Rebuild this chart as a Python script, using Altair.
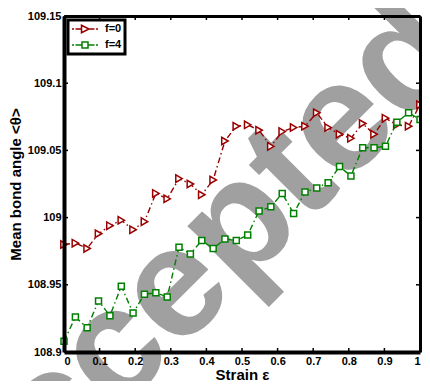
import altair as alt
import pandas as pd

# ---- data ----
strain = [0.0, 0.032, 0.065, 0.097, 0.129, 0.161, 0.194, 0.226, 0.258, 0.290,
          0.323, 0.355, 0.387, 0.419, 0.452, 0.484, 0.516, 0.548, 0.581, 0.613,
          0.645, 0.677, 0.710, 0.742, 0.774, 0.806, 0.839, 0.871, 0.903, 0.935,
          0.968, 1.0]
f0 = [108.980, 108.981, 108.977, 108.988, 108.994, 108.998, 108.991, 108.997,
      109.018, 109.014, 109.029, 109.025, 109.017, 109.028, 109.057, 109.068,
      109.069, 109.065, 109.053, 109.064, 109.067, 109.068, 109.078, 109.067,
      109.062, 109.059, 109.070, 109.062, 109.074, 109.069, 109.068, 109.084]
f4 = [108.908, 108.926, 108.918, 108.938, 108.927, 108.949, 108.929, 108.943,
      108.944, 108.941, 108.978, 108.973, 108.983, 108.977, 108.984, 108.983,
      108.987, 109.005, 109.008, 109.018, 109.003, 109.019, 109.022, 109.026,
      109.038, 109.031, 109.052, 109.052, 109.053, 109.071, 109.078, 109.073]
series_names = ["f=0", "f=4"]
colors = ["#990000", "#008000"]
x_ticks = [0, 0.1, 0.2, 0.3, 0.4, 0.5, 0.6, 0.7, 0.8, 0.9, 1]
y_ticks = [108.9, 108.95, 109.0, 109.05, 109.1, 109.15]
wm_text = ["Accepted"]
wm_x = [0.353]
wm_y = [108.958]

W, H = 356, 336
FONT = "Liberation Sans"

df = pd.DataFrame({
    "strain": strain * 2,
    "angle": f0 + f4,
    "series": [series_names[0]] * len(f0) + [series_names[1]] * len(f4),
})
df["label"] = df["series"]
xt = pd.DataFrame({"t": x_ticks})
yt = pd.DataFrame({"t": y_ticks})
wm = pd.DataFrame({"x": wm_x, "y": wm_y, "txt": wm_text})

xsc = alt.Scale(domain=[0, 1], nice=False, zero=False)
ysc = alt.Scale(domain=[108.9, 109.15], nice=False, zero=False)

watermark = alt.Chart(wm).mark_text(
    font=FONT, fontSize=156, fontWeight="bold", angle=315, color="#a0a0a0",
    align="center", baseline="middle"
).encode(
    x=alt.X("x:Q", scale=xsc, axis=None),
    y=alt.Y("y:Q", scale=ysc, axis=None),
    text="txt:N",
)

layers = [watermark]
markers = [("triangle-right", 55), ("square", 36)]
for name, col, (shp, sz) in zip(series_names, colors, markers):
    sub = alt.Chart(df).transform_filter(alt.datum.series == name)
    layers.append(sub.mark_line(strokeWidth=1.4, strokeDash=[6, 3, 1.5, 3], color=col).encode(
        x=alt.X("strain:Q", scale=xsc, axis=None),
        y=alt.Y("angle:Q", scale=ysc, axis=None),
    ))
    layers.append(sub.mark_point(shape=shp, size=sz, filled=False, fill="white", color=col,
                                 strokeWidth=1.5, opacity=1).encode(
        x=alt.X("strain:Q", scale=xsc, axis=None),
        y=alt.Y("angle:Q", scale=ysc, axis=None),
    ))

P_TRI = "M-2.6,0H-2.2M-1.9,0H-0.75M-0.7,-0.75L0.8,0L-0.7,0.75ZM0.8,0H1.9M2.2,0H2.6"
P_SQ = "M-2.6,0H-2.2M-1.9,0H-0.6M-0.6,-0.6H0.6V0.6H-0.6ZM0.6,0H1.9M2.2,0H2.6"
leg_def = alt.Legend(title=None, orient="top-left", offset=4, padding=3,
                     strokeColor="black", fillColor="white", cornerRadius=0,
                     symbolOffset=8, labelOffset=14, symbolStrokeWidth=1.5,
                     symbolSize=100, symbolOpacity=1, rowPadding=3,
                     labelFont=FONT, labelFontWeight="bold", labelFontSize=11,
                     labelColor="black")
legend_layer = alt.Chart(df).mark_point(filled=False, strokeWidth=1.5, opacity=0).encode(
    x=alt.X("strain:Q", scale=xsc, axis=None),
    y=alt.Y("angle:Q", scale=ysc, axis=None),
    shape=alt.Shape("label:N", scale=alt.Scale(domain=series_names, range=[P_TRI, P_SQ]), legend=leg_def),
    stroke=alt.Stroke("label:N", scale=alt.Scale(domain=series_names, range=colors), legend=leg_def),
)
layers.append(legend_layer)

ax_common = dict(zindex=1, domainColor="black", tickSize=0, grid=False,
                 labelFont=FONT, labelFontWeight="bold", labelFontSize=11,
                 labelColor="black", titleFont=FONT, titleFontWeight="bold",
                 titleFontSize=15, titleColor="black")

bottom = alt.Chart(xt).mark_rule(color="black", strokeWidth=1.5).encode(
    x=alt.X("t:Q", scale=xsc, axis=alt.Axis(orient="bottom", values=x_ticks, format="~g",
                                            title="Strain ε", domainWidth=4, labelPadding=3,
                                            titlePadding=1, **ax_common)),
    y=alt.value(H), y2=alt.value(H - 4),
)
top = alt.Chart(xt).mark_rule(color="black", strokeWidth=1.5).encode(
    x=alt.X("t:Q", scale=xsc, axis=alt.Axis(orient="top", values=x_ticks, labels=False,
                                            title=None, domainWidth=3, **ax_common)),
    y=alt.value(0), y2=alt.value(4),
)
left = alt.Chart(yt).mark_rule(color="black", strokeWidth=1.5).encode(
    y=alt.Y("t:Q", scale=ysc, axis=alt.Axis(orient="left", values=y_ticks, format="~g",
                                            title="Mean bond angle <θ>", domainWidth=4,
                                            labelPadding=3, titlePadding=4, **ax_common)),
    x=alt.value(0), x2=alt.value(4),
)
right = alt.Chart(yt).mark_rule(color="black", strokeWidth=1.5).encode(
    y=alt.Y("t:Q", scale=ysc, axis=alt.Axis(orient="right", values=y_ticks, labels=False,
                                            title=None, domainWidth=3, **ax_common)),
    x=alt.value(W), x2=alt.value(W - 4),
)
layers += [bottom, top, left, right]

chart = alt.layer(*layers).resolve_axis(
    x="independent", y="independent"
).properties(
    width=W, height=H,
    autosize=alt.AutoSizeParams(type="none"),
    padding={"left": 56, "top": 8, "right": 2, "bottom": 29},
).configure_view(stroke=None).configure_legend(strokeWidth=3)

chart.save("out.html", embed_options={"renderer": "svg", "actions": False})
